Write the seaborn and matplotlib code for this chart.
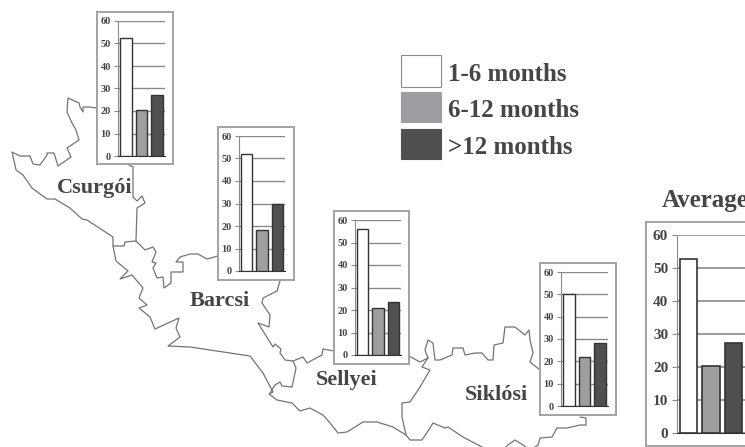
import matplotlib
matplotlib.use('Agg')
import matplotlib.pyplot as plt
from matplotlib.patches import Rectangle
import seaborn as sns

periods = ['1-6 months', '6-12 months', '>12 months']
csurgoi = [52.5, 20.3, 27.3]
barcsi = [52, 18.2, 30]
sellyei = [56, 20.8, 23.7]
siklosi = [50, 21.8, 28.3]
average = [52.6, 20.3, 27.3]
yticks = [0, 10, 20, 30, 40, 50, 60]

# map outline (pixels)
csurgoi_outer_x = [97, 89, 83, 83, 80, 79, 68, 67, 72, 76, 79, 67, 71, 58, 54, 47, 47, 40, 33, 30, 20, 12, 15, 16, 23, 32, 47, 55, 70, 82, 87, 113, 113, 124, 125, 136]
csurgoi_outer_y = [108, 107, 107, 112, 107, 103, 98, 112, 123, 130, 140, 148, 157, 166, 153, 153, 155, 165, 164, 156, 156, 152, 165, 170, 175, 188, 199, 199, 208, 219, 220, 237, 246, 246, 242, 241]
csurgoi_east_x = [129, 133, 133, 137, 142, 145, 137, 136]
csurgoi_east_y = [165, 167, 197, 201, 196, 203, 208, 241]
south_x = [113, 116, 128, 120, 132, 143, 139, 147, 139, 150, 155, 179, 176, 180, 168, 190, 250, 263, 273, 269, 277, 292, 300, 310, 323, 330, 338, 347, 363, 377, 393, 406, 410, 422, 430, 433, 445, 448, 463, 482, 490]
south_y = [246, 261, 271, 279, 275, 288, 298, 305, 308, 317, 329, 318, 328, 337, 346, 347, 356, 373, 392, 394, 400, 403, 411, 408, 415, 423, 433, 432, 422, 422, 427, 435, 440, 440, 428, 423, 428, 427, 437, 447, 450]
south2_x = [503, 508, 515, 523, 530, 538, 540, 552, 557, 567, 580, 586, 586, 580]
south2_y = [450, 445, 440, 445, 450, 445, 438, 437, 428, 428, 425, 425, 418, 417]
barcsi_north_x = [136, 145, 153, 156, 152, 156, 153, 157, 163, 164, 171, 171, 183, 183, 176, 180, 190, 198, 207, 218]
barcsi_north_y = [241, 250, 247, 252, 262, 263, 268, 278, 277, 288, 283, 272, 272, 262, 262, 257, 254, 254, 259, 256]
barcsi_east_x = [280, 277, 263, 262, 270, 269, 258, 273, 275, 281, 280, 285, 293, 296, 292, 282, 280, 275, 270]
barcsi_east_y = [281, 291, 298, 303, 315, 327, 323, 347, 344, 349, 353, 360, 361, 368, 387, 386, 382, 385, 393]
sellyei_north_x = [293, 303, 307, 322, 323, 334]
sellyei_north_y = [361, 357, 363, 355, 349, 351]
siklosi_north_x = [409, 420, 428, 422, 430, 420, 410, 402, 402, 406]
siklosi_north_y = [356, 362, 358, 367, 370, 387, 402, 403, 417, 435]
siklosi_top_x = [428, 425, 428, 433, 435, 440, 452, 453, 463, 465, 475, 482, 488, 493, 494, 503, 505, 515, 525, 529, 530, 533, 530, 540]
siklosi_top_y = [358, 350, 340, 343, 360, 360, 355, 348, 348, 355, 353, 353, 360, 360, 345, 343, 327, 327, 335, 330, 340, 353, 362, 370]

W, H = 745, 447
sns.set_style('white')
plt.rcParams['font.family'] = ['Liberation Serif', 'DejaVu Serif']
plt.rcParams['font.weight'] = 'bold'

bar_colors = ['white', '#9d9ea1', '#505052']
text_color = '#464648'
line_color = '#8a8a8c'

fig = plt.figure(figsize=(W / 100, H / 100), dpi=100)
bg = fig.add_axes([0, 0, 1, 1])
bg.set_xlim(0, W)
bg.set_ylim(H, 0)
bg.axis('off')

outlines = [
    (csurgoi_outer_x, csurgoi_outer_y), (csurgoi_east_x, csurgoi_east_y),
    (south_x, south_y), (south2_x, south2_y),
    (barcsi_north_x, barcsi_north_y), (barcsi_east_x, barcsi_east_y),
    (sellyei_north_x, sellyei_north_y), (siklosi_north_x, siklosi_north_y),
    (siklosi_top_x, siklosi_top_y),
]
for xs, ys in outlines:
    sns.lineplot(x=xs, y=ys, sort=False, estimator=None, color='#747476', lw=0.9, ax=bg)
bg.set_xlim(0, W)
bg.set_ylim(H, 0)


def small_chart(values, box, plot, tick_size, lw=1.0):
    # box and plot are (left, top, right, bottom) in pixels
    bl, bt, br, bb = box
    bg.add_patch(Rectangle((bl, bt), br - bl, bb - bt, fc='white', ec='#a3a3a5', lw=1.4, zorder=3))
    pl, pt, pr, pb = plot
    ax = fig.add_axes([pl / W, 1 - pb / H, (pr - pl) / W, (pb - pt) / H])
    ax.patch.set_alpha(0)
    sns.barplot(x=periods, y=values, hue=periods, palette=bar_colors, width=0.76,
                edgecolor='#333335', linewidth=lw, legend=False, ax=ax, zorder=3)
    ax.set_xlim(-0.5, 2.5)
    ax.set_ylim(0, 60)
    ax.set_yticks(yticks)
    ax.set_xticks([])
    ax.grid(axis='y', color=line_color, lw=lw)
    ax.set_axisbelow(True)
    sns.despine(ax=ax, top=True, right=True, bottom=False)
    ax.spines['left'].set_color(line_color)
    ax.spines['bottom'].set_color('#333335')
    ax.tick_params(axis='y', length=tick_size * 0.35, color=line_color, labelsize=tick_size,
                   labelcolor=text_color, pad=2.5, left=True)
    ax.set_xlabel('')
    return ax


small_chart(csurgoi, (97, 12, 173, 164), (118, 21, 165, 156), 7.5)
small_chart(barcsi, (218, 127, 294, 280), (239, 136, 285, 271), 7.5)
small_chart(sellyei, (334, 211, 409, 364), (355, 220, 401, 355), 7.5)
small_chart(siklosi, (540, 263, 616, 415), (561, 272, 608, 406), 7.5)
small_chart(average, (646, 222, 780, 446), (677, 235, 745, 433), 11, lw=1.2)

for name, x, y in [('Csurgói', 95, 188), ('Barcsi', 220, 301), ('Sellyei', 347, 380), ('Siklósi', 496, 395)]:
    bg.text(x, y, name, ha='center', va='center', fontsize=16, color=text_color, zorder=4)
bg.text(662, 200, 'Average', ha='left', va='center', fontsize=18, color=text_color, zorder=4)

# legend
for label, color, top, bottom in zip(periods, bar_colors, [55, 92, 129], [87, 122, 159]):
    bg.add_patch(Rectangle((401, top), 40, bottom - top, fc=color, ec='#8a8a8c' if color == 'white' else color, lw=0.8))
    bg.text(448, (top + bottom) / 2 + 3.5, label, ha='left', va='center', fontsize=18, color=text_color)

fig.savefig('out.png', dpi=100)
